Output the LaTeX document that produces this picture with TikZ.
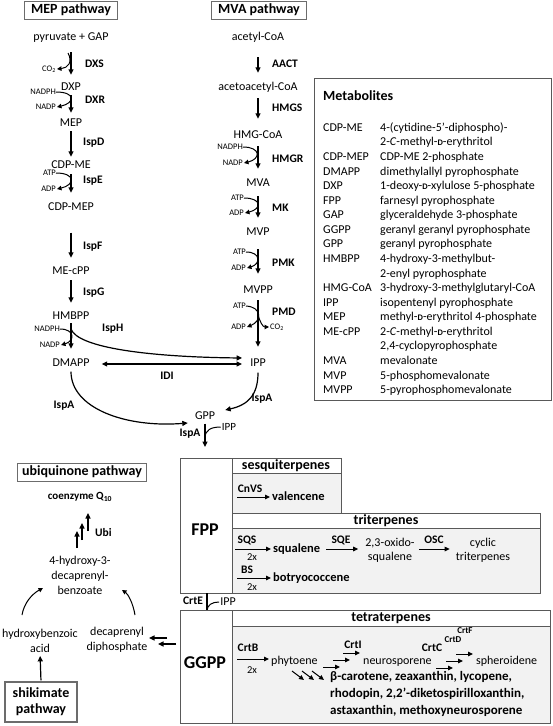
\documentclass[tikz,border=0pt]{standalone}
\usepackage{fontspec}
\setmainfont{Carlito}
\usetikzlibrary{arrows.meta}
\newcommand\fmain{\fontsize{12}{15}\selectfont}
\newcommand\fter{\fontsize{12}{14}\selectfont}
\newcommand\fprod{\fontsize{12.5}{14}\selectfont\bfseries}
\newcommand\fenz{\fontsize{11.5}{13}\selectfont\bfseries}
\newcommand\fcof{\fontsize{8.5}{9}\selectfont}
\newcommand\fhead{\fontsize{14}{16}\selectfont\bfseries}
\newcommand\fbig{\fontsize{18}{20}\selectfont\bfseries}
\newcommand\ftwo{\fontsize{10.5}{12}\selectfont}
\newcommand\dsc{{\fontsize{8.5}{9}\selectfont\bfseries D}}
\begin{document}
\begin{tikzpicture}[x=1pt,y=-1pt,
  met/.style={font=\fmain,inner sep=0pt,text height=8.5pt,text depth=2.5pt},
  mtl/.style={font=\fmain,inner sep=0pt,align=center},
  tmet/.style={font=\fter,inner sep=0pt,text height=8.5pt,text depth=2.5pt,anchor=west},
  tmtl/.style={font=\fter,inner sep=0pt,align=center},
  enz/.style={font=\fenz,inner sep=0pt,anchor=west},
  enzc/.style={font=\fenz,inner sep=0pt},
  cof/.style={font=\fcof,inner sep=0pt,anchor=east},
  prod/.style={font=\fprod,inner sep=0pt,anchor=west,text height=9pt,text depth=2.5pt},
  two/.style={font=\ftwo,inner sep=0pt},
  arr/.style={-{Triangle[length=5.5pt,width=5pt]},line width=1.2pt},
  va/.style 2 args={arr,shorten <=#1pt,shorten >=#2pt},
  cur/.style={-{Triangle[length=4.5pt,width=4.5pt]},line width=1pt},
  curn/.style={line width=1pt},
  tarr/.style={-{Triangle[length=5pt,width=4.5pt]},line width=1pt},
  hdr/.style={draw=gray!85!black,fill=white,line width=0.9pt,font=\fhead,inner xsep=6.5pt,inner ysep=2.5pt,text height=10pt,text depth=3pt},
  pbox/.style={draw=gray!70!black,line width=0.9pt,fill=white},
  cbox/.style={draw=gray!70!black,line width=0.9pt,fill=gray!10},
  thead/.style={font=\fhead,inner sep=0pt}
]
\useasboundingbox (0,0) rectangle (553,726);

% ---------- headers
\node[hdr] (mephead) at (71,10) {MEP pathway};
\node[hdr] (mvahead) at (259,10) {MVA pathway};

% ---------- MEP column
\node[met] (pyr) at (71,37) {pyruvate + GAP};
\node[met] (dxp) at (71,87) {DXP};
\node[met] (mep) at (71,123) {MEP};
\node[met] (cdpme) at (71,165) {CDP-ME};
\node[met] (cdpmep) at (71,207) {CDP-MEP};
\node[met] (mecpp) at (71,271) {ME-cPP};
\node[met] (hmbpp) at (71,316) {HMBPP};
\node[met] (dmapp) at (71,363) {DMAPP};

\node[enz] (dxs) at (85,64) {DXS};
\node[enz] (dxr) at (85,100) {DXR};
\node[enz] (ispd) at (83,143) {IspD};
\node[enz] (ispe) at (83,181) {IspE};
\node[enz] (ispf) at (83,247) {IspF};
\node[enz] (ispg) at (83,293) {IspG};
\node[enz] (isph) at (102,329) {IspH};

\node[cof] (co2a) at (56,69) {CO\textsubscript{2}};
\node[cof] (nadph1) at (56,92) {NADPH};
\node[cof] (nadp1) at (56,107) {NADP};
\node[cof] (atp1) at (56,173) {ATP};
\node[cof] (adp1) at (56,189) {ADP};
\node[cof] (nadph2) at (60,329) {NADPH};
\node[cof] (nadp2) at (60,345) {NADP};

\draw[va={9.5}{6.5}] (pyr.south) -- (dxp.north);
\draw[va={2.5}{4.5}] (dxp.south) -- (mep.north);
\draw[va={2.5}{2.5}] (mep.south) -- (cdpme.north);
\draw[va={3.5}{8.5}] (cdpme.south) -- (cdpmep.north);
\draw[va={20}{7.5}] (cdpmep.south) -- (mecpp.north);
\draw[va={3.5}{7.5}] (mecpp.south) -- (hmbpp.north);
\draw[va={1.5}{8.5}] (hmbpp.south) -- (dmapp.north);

\coordinate (dxsc) at (68,53);
\draw[cur] (dxsc) .. controls (73,62) and (68,68) .. ([xshift=1pt]co2a.east);
\draw[cur] (nadph1.east) .. controls +(20,0) and +(18,-4) .. ([xshift=1pt]nadp1.east);
\draw[cur] (atp1.east) .. controls +(20,0) and +(18,-4) .. ([xshift=1pt]adp1.east);
\draw[cur] (nadph2.east) .. controls +(15,0) and +(14,-4) .. ([xshift=1pt]nadp2.east);

% ---------- MVA column
\node[met] (acetyl) at (258,37) {acetyl-CoA};
\node[met] (acac) at (258,87) {acetoacetyl-CoA};
\node[met] (hmgcoa) at (258,135) {HMG-CoA};
\node[met] (mva) at (258,183) {MVA};
\node[met] (mvp) at (258,232) {MVP};
\node[met] (mvpp) at (258,290) {MVPP};
\node[met] (ipp) at (258,363) {IPP};

\node[enz] (aact) at (272,64) {AACT};
\node[enz] (hmgs) at (272,108) {HMGS};
\node[enz] (hmgr) at (272,159) {HMGR};
\node[enz] (mk) at (272,208) {MK};
\node[enz] (pmk) at (272,263) {PMK};
\node[enz] (pmd) at (272,312) {PMD};

\node[cof] (nadph3) at (243,147) {NADPH};
\node[cof] (nadp3) at (243,163) {NADP};
\node[cof] (atp3) at (244,198) {ATP};
\node[cof] (adp3) at (244,213) {ADP};
\node[cof] (atp4) at (246,252) {ATP};
\node[cof] (adp4) at (246,268) {ADP};
\node[cof] (atp5) at (246,306) {ATP};
\node[cof] (adp5) at (246,327) {ADP};
\node[font=\fcof,inner sep=0pt,anchor=west] (co2b) at (270,327) {CO\textsubscript{2}};

\draw[va={14.5}{8.5}] (acetyl.south) -- (acac.north);
\draw[va={5.5}{10.5}] (acac.south) -- (hmgcoa.north);
\draw[va={5.5}{8.5}] (hmgcoa.south) -- (mva.north);
\draw[va={7.5}{8.5}] (mva.south) -- (mvp.north);
\draw[va={11.5}{10.5}] (mvp.south) -- (mvpp.north);
\draw[va={4.5}{10.5}] (mvpp.south) -- (ipp.north);

\draw[cur] (nadph3.east) .. controls +(18,0) and +(17,-4) .. ([xshift=1pt]nadp3.east);
\draw[cur] (atp3.east) .. controls +(18,0) and +(17,-4) .. ([xshift=1pt]adp3.east);
\draw[cur] (atp4.east) .. controls +(15,0) and +(14,-4) .. ([xshift=1pt]adp4.east);
\draw[cur] (atp5.east) .. controls +(16,1) and +(15,-6) .. ([xshift=1pt]adp5.east);
\coordinate (pmdc) at (258,315);
\draw[cur] (pmdc) .. controls (260,322) and (263,327) .. ([xshift=-1pt]co2b.west);

% ---------- IPP / DMAPP / GPP
\coordinate (isphc) at (71,329);
\draw[arr] (isphc) .. controls (78,348) and (150,357) .. ([shift={(-8,-5)}]ipp.west);
\draw[{Triangle[length=5.5pt,width=5pt]}-{Triangle[length=5.5pt,width=5pt]},line width=1.2pt]
  ([shift={(12,1)}]dmapp.east) -- ([shift={(-8,1)}]ipp.west);
\node[enzc] (idi) at (167,376) {IDI};

\node[met] (gpp) at (205,416) {GPP};
\node[font=\fontsize{11}{12}\selectfont,inner sep=0pt] (ipp2) at (229,427) {IPP};
\node[enzc] (ispa1) at (64,406) {IspA};
\node[enzc] (ispa2) at (262,399) {IspA};
\node[enzc] (ispa3) at (190,434) {IspA};

\draw[arr] ([yshift=-3pt]dmapp.south) .. controls (71,408) and (125,428) .. ([shift={(-7,7)}]gpp.west);
\draw[arr] ([yshift=-4pt]ipp.south) .. controls (258,395) and (248,405) .. ([shift={(10,-6)}]gpp.east);
\coordinate (gppend) at (205,447);
\coordinate (gppj) at (205,438);
\draw[arr,shorten <=2pt] (gpp.south) -- (gppend);
\draw[curn] ([xshift=-1pt]ipp2.west) .. controls (211,427) and (205,430) .. (gppj);

% ---------- Metabolites box
\draw[pbox] (314,78) rectangle (551,400);
\node[font=\fontsize{14}{15}\selectfont\bfseries,inner sep=0pt,anchor=west] (methead) at (323,96) {Metabolites};
\node[font=\fontsize{12}{14.57}\selectfont,inner sep=0pt,anchor=north west] (metlist) at (323,121) {%
\begin{tabular}{@{}p{57pt}@{}l@{}}
CDP-ME & 4-(cytidine-5’-diphospho)-\\
 & 2-\textit{C}-methyl-\dsc-erythritol\\
CDP-MEP & CDP-ME 2-phosphate\\
DMAPP & dimethylallyl pyrophosphate\\
DXP & 1-deoxy-\dsc-xylulose 5-phosphate\\
FPP & farnesyl pyrophosphate\\
GAP & glyceraldehyde 3-phosphate\\
GGPP & geranyl geranyl pyrophosphate\\
GPP & geranyl pyrophosphate\\
HMBPP & 4-hydroxy-3-methylbut-\\
 & 2-enyl pyrophosphate\\
HMG-CoA & 3-hydroxy-3-methylglutaryl-CoA\\
IPP & isopentenyl pyrophosphate\\
MEP & methyl-\dsc-erythritol 4-phosphate\\
ME-cPP & 2-\textit{C}-methyl-\dsc-erythritol\\
 & 2,4-cyclopyrophosphate\\
MVA & mevalonate\\
MVP & 5-phosphomevalonate\\
MVPP & 5-pyrophosphomevalonate
\end{tabular}};

% ---------- FPP block
\draw[pbox] (180,458) rectangle (232,593);
\draw[pbox] (232,458) rectangle (341,473);
\draw[cbox] (232,473) rectangle (341,513);
\draw[pbox] (232,513) rectangle (540,528);
\draw[cbox] (232,528) rectangle (540,593);
\node[font=\fbig,inner sep=0pt] (fpp) at (205,530) {FPP};
\node[thead] (sesq) at (286,465.5) {sesquiterpenes};
\node[thead] (trit) at (386,520.5) {triterpenes};

\node[enzc] (cnvs) at (250,489) {CnVS};
\node[prod] (valen) at (272,497) {valencene};
\coordinate (sesqs) at (237,497);
\draw[tarr,shorten >=2pt] (sesqs) -- (valen.west);

\node[enzc] (sqs) at (247,540) {SQS};
\node[two] (sqs2) at (252,557) {2x};
\node[prod] (squal) at (273,549) {squalene};
\coordinate (trits) at (235,549);
\draw[tarr,shorten >=2pt] (trits) -- (squal.west);
\node[tmtl] (oxido) at (390,550) {2,3-oxido-\\squalene};
\node[enzc] (sqe) at (341,540) {SQE};
\draw[tarr,shorten <=6pt,shorten >=7pt] (squal.east) -- (oxido.west |- squal.east);
\node[tmtl] (cyclic) at (483,550) {cyclic\\triterpenes};
\node[enzc] (osc) at (434,540) {OSC};
\draw[tarr,shorten <=4pt,shorten >=6pt] (oxido.east |- squal.east) -- (cyclic.west |- squal.east);

\node[enzc] (bs) at (247,570) {BS};
\node[two] (bs2) at (252,587) {2x};
\node[prod] (botry) at (273,578) {botryococcene};
\coordinate (bss) at (237,578);
\draw[tarr,shorten >=2pt] (bss) -- (botry.west);

% ---------- CrtE
\coordinate (fppout) at (207,593);
\coordinate (ggppin) at (207,620);
\coordinate (crtej) at (207,611);
\draw[arr] (fppout) -- (ggppin);
\node[enzc] (crte) at (193,601) {CrtE};
\node[met] (ipp3) at (228,602) {IPP};
\draw[curn] ([xshift=-1pt]ipp3.west) .. controls (212,602) and (207,605) .. (crtej);

% ---------- GGPP block
\draw[pbox] (180,610) rectangle (232,723);
\draw[pbox] (232,610) rectangle (550,626);
\draw[cbox] (232,626) rectangle (550,723);
\node[font=\fbig,inner sep=0pt] (ggpp) at (205,663) {GGPP};
\node[thead] (tetra) at (391,618) {tetraterpenes};

\node[enzc] (crtb) at (248,648) {CrtB};
\node[two] (crtb2) at (252,670) {2x};
\node[tmet] (phyt) at (271,661) {phytoene};
\coordinate (tets) at (237,659);
\draw[tarr,shorten >=2pt] (tets) -- (phyt.west |- tets);

\coordinate (ci1) at (323,667); \coordinate (ci1e) at (340,667);
\coordinate (ci2) at (333,660); \coordinate (ci2e) at (350,660);
\coordinate (ci3) at (343,653); \coordinate (ci3e) at (360,653);
\draw[tarr] (ci1) -- (ci1e);
\draw[tarr] (ci2) -- (ci2e);
\draw[tarr] (ci3) -- (ci3e);
\node[enzc] (crti) at (353,645) {CrtI};
\node[tmet] (neuro) at (363,661) {neurosporene};

\coordinate (cc1) at (436,668); \coordinate (cc1e) at (453,668);
\coordinate (cc2) at (446,661); \coordinate (cc2e) at (463,661);
\coordinate (cc3) at (456,654); \coordinate (cc3e) at (473,654);
\draw[tarr] (cc1) -- (cc1e);
\draw[tarr] (cc2) -- (cc2e);
\draw[tarr] (cc3) -- (cc3e);
\node[enzc] (crtc) at (432,648) {CrtC};
\node[font=\fontsize{9}{10}\selectfont\bfseries,inner sep=0pt] (crtd) at (453,640) {CrtD};
\node[font=\fontsize{9}{10}\selectfont\bfseries,inner sep=0pt] (crtf) at (465,631) {CrtF};
\node[tmet] (spher) at (476,661) {spheroidene};

\coordinate (d1) at (292,671); \coordinate (d1e) at (304,680);
\coordinate (d2) at (302,671); \coordinate (d2e) at (314,680);
\coordinate (d3) at (312,671); \coordinate (d3e) at (324,680);
\draw[tarr] (d1) -- (d1e);
\draw[tarr] (d2) -- (d2e);
\draw[tarr] (d3) -- (d3e);
\node[font=\fontsize{13}{17}\selectfont\bfseries,inner sep=0pt,align=left,anchor=west] (carot) at (330,694)
  {β-carotene, zeaxanthin, lycopene,\\rhodopin, 2,2’-diketospirilloxanthin,\\astaxanthin, methoxyneurosporene};

% ---------- ubiquinone pathway
\node[hdr,inner xsep=4.5pt] (ubihead) at (82,472) {ubiquinone pathway};
\node[font=\fontsize{11}{13}\selectfont\bfseries,inner sep=0pt] (coq) at (80,497) {coenzyme Q\textsubscript{10}};
\coordinate (u1) at (77,548); \coordinate (u1e) at (77,531);
\coordinate (u2) at (82,540); \coordinate (u2e) at (82,523);
\coordinate (u3) at (88,531); \coordinate (u3e) at (88,513);
\draw[arr] (u1) -- (u1e);
\draw[arr] (u2) -- (u2e);
\draw[arr] (u3) -- (u3e);
\node[enz] (ubi) at (95,533) {Ubi};
\node[mtl] (hdb) at (80,575) {4-hydroxy-3-\\decaprenyl-\\benzoate};
\node[mtl] (hba) at (40,641) {hydroxybenzoic\\acid};
\node[mtl] (dpp) at (117,640) {decaprenyl\\diphosphate};
\coordinate (hbac) at (22,615);
\coordinate (dppc) at (135,615);
\draw[cur] (hbac) .. controls (24,603) and (32,594) .. (43,588);
\draw[cur] (dppc) .. controls (133,603) and (128,594) .. (122,590);
\coordinate (g1) at (167,638); \coordinate (g1e) at (149,638);
\coordinate (g2) at (176,644); \coordinate (g2e) at (158,644);
\draw[arr] (g1) -- (g1e);
\draw[arr] (g2) -- (g2e);
\node[draw=gray!85!black,line width=1.2pt,font=\fontsize{14}{16}\selectfont\bfseries,align=center,inner sep=2pt,minimum width=72pt,minimum height=40pt] (shik) at (41,702) {shikimate\\pathway};
\draw[arr,shorten <=1pt,shorten >=3pt] (shik.north) -- (hba.south);
\end{tikzpicture}
\end{document}
